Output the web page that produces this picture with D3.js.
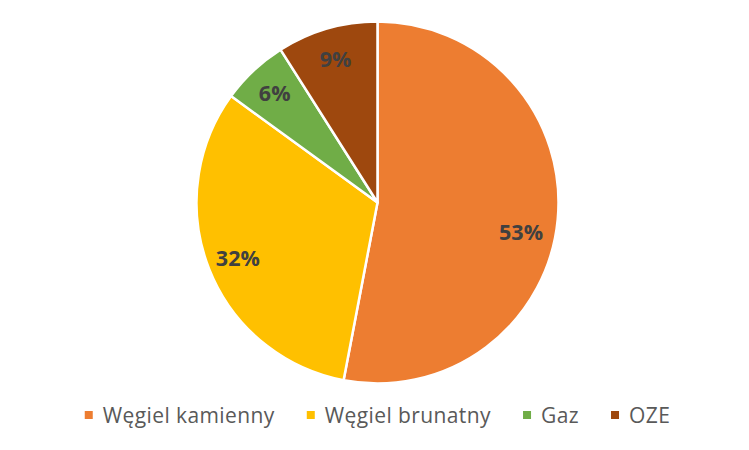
<!DOCTYPE html>
<html>
<head>
<meta charset="utf-8">
<script src="https://cdn.jsdelivr.net/npm/d3@7"></script>
<style>
  html, body { margin: 0; padding: 0; background: #fff; }
  svg { display: block; }
</style>
</head>
<body>
<div id="chart"></div>
<script>
// Struktura wytwarzania energii
const categories = ['Węgiel kamienny', 'Węgiel brunatny', 'Gaz', 'OZE'];
const shares = [53, 32, 6, 9];
const colors = ['#ED7D31', '#FFC000', '#70AD47', '#9E480E'];

const width = 749, height = 450;
const cx = 377.5, cy = 202.5, radius = 181;
const FONT = '"Open Sans", Lato, sans-serif';

// Excel "best fit" pushes the big slice label down/in a bit
const labelShift = { 'Węgiel kamienny': [-6, 15] };

const data = categories.map((c, i) => ({ cat: c, value: shares[i], color: colors[i] }));

const svg = d3.select('#chart').append('svg')
  .attr('width', width)
  .attr('height', height);

const pie = d3.pie().value(d => d.value).sort(null);
const arc = d3.arc().innerRadius(0).outerRadius(radius);
const labelArc = d3.arc().innerRadius(radius * 0.83).outerRadius(radius * 0.83);

const g = svg.append('g').attr('transform', `translate(${cx},${cy})`);

const arcs = pie(data);

g.selectAll('path')
  .data(arcs)
  .enter().append('path')
  .attr('d', arc)
  .attr('fill', d => d.data.color)
  .attr('stroke', '#fff')
  .attr('stroke-width', 2.5)
  .attr('stroke-linejoin', 'round');

g.selectAll('text')
  .data(arcs)
  .enter().append('text')
  .attr('transform', d => {
    const [x, y] = labelArc.centroid(d);
    const s = labelShift[d.data.cat] || [0, 0];
    return `translate(${x + s[0]},${y + s[1]})`;
  })
  .attr('text-anchor', 'middle')
  .attr('dominant-baseline', 'central')
  .attr('font-family', FONT)
  .attr('font-weight', 700)
  .attr('font-size', '21.5px')
  .attr('fill', '#404040')
  .text(d => d.data.value + '%');

// Legend (centred row under the pie)
const legend = svg.append('g');
const item = legend.selectAll('g')
  .data(data)
  .enter().append('g');

item.append('rect')
  .attr('width', 8)
  .attr('height', 8)
  .attr('y', -4)
  .attr('fill', d => d.color);

item.append('text')
  .attr('x', 18)
  .attr('dominant-baseline', 'central')
  .attr('font-family', FONT)
  .attr('font-size', '21px')
  .attr('letter-spacing', '0.4px')
  .attr('fill', '#595959')
  .text(d => d.cat);

let offset = 0;
item.each(function() {
  const w = this.getBBox().width;
  d3.select(this).attr('transform', `translate(${offset},0)`);
  offset += w + 32;
});
const total = offset - 32;
legend.attr('transform', `translate(${(width - total) / 2 + 3},415)`);
</script>
</body>
</html>
